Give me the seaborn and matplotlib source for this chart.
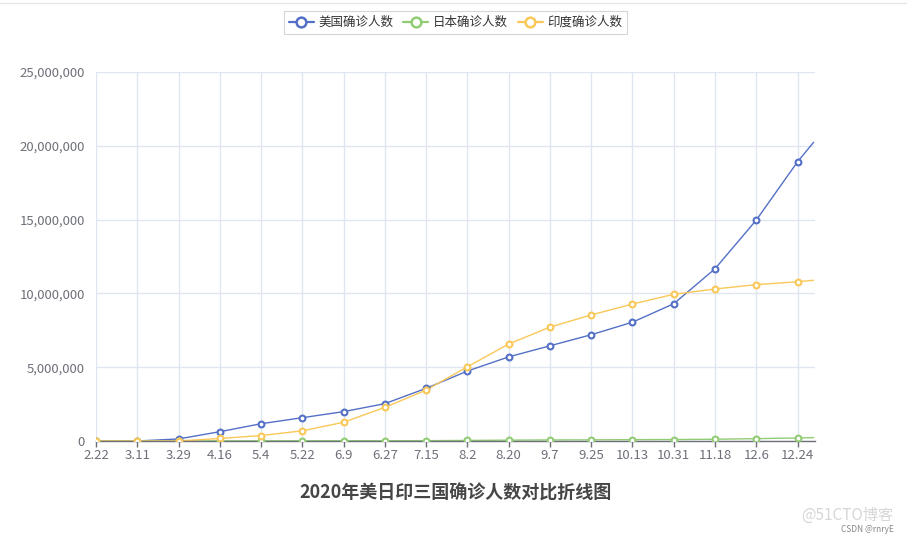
import numpy as np
import pandas as pd
import seaborn as sns
import matplotlib.pyplot as plt
from matplotlib.lines import Line2D
from matplotlib.ticker import FuncFormatter

sns.set_theme(style="white")
plt.rcParams['font.family'] = ['Noto Sans CJK SC', 'DejaVu Sans']

# dates shown on the x axis (every 18 days), last point is 12.31 (no marker)
tick_labels = ["2.22", "3.11", "3.29", "4.16", "5.4", "5.22", "6.9", "6.27", "7.15",
               "8.2", "8.20", "9.7", "9.25", "10.13", "10.31", "11.18", "12.6", "12.24"]
day_index = [i * 18 for i in range(len(tick_labels))] + [313]

us_cases = [0, 1000, 140000, 630000, 1170000, 1580000, 1990000, 2530000, 3570000,
            4740000, 5700000, 6450000, 7200000, 8050000, 9300000, 11670000,
            14970000, 18920000, 20240000]
jp_cases = [130, 600, 1900, 8700, 15000, 16500, 17200, 18400, 23000,
            38000, 58000, 72000, 79000, 89000, 100000, 120000, 160000, 205000, 230000]
in_cases = [0, 60, 1000, 170000, 370000, 690000, 1270000, 2280000, 3450000,
            5030000, 6570000, 7720000, 8540000, 9280000, 9940000, 10300000,
            10590000, 10790000, 10890000]

names = ["美国确诊人数", "日本确诊人数", "印度确诊人数"]
colors = ["#5470c6", "#91cc75", "#fac858"]

df = pd.concat([
    pd.DataFrame({"day": day_index, "cases": v, "country": n})
    for v, n in zip([us_cases, jp_cases, in_cases], names)
])

fig = plt.figure(figsize=(9.07, 5.37), dpi=100)
ax = fig.add_axes([96 / 907, 1 - 441 / 537, (815 - 96) / 907, (441 - 72) / 537])

sns.lineplot(data=df, x="day", y="cases", hue="country", palette=colors,
             linewidth=1, legend=False, ax=ax)
for n, c in zip(names, colors):
    sub = df[df["country"] == n].iloc[:-1]
    ax.plot(sub["day"], sub["cases"], "o", ms=4.2, mfc="white", mec=c, mew=1.5, zorder=5)

ax.set_xlim(0, 313.6)
ax.set_ylim(0, 25000000)
ax.set_xticks(day_index[:-1])
ax.set_xticklabels(tick_labels)
ax.set_yticks(np.arange(0, 25000001, 5000000))
ax.yaxis.set_major_formatter(FuncFormatter(lambda v, p: f"{int(v):,}"))
ax.set_xlabel("")
ax.set_ylabel("")

ax.grid(True, color="#e0e6f1", linewidth=1)
ax.set_axisbelow(True)
for s in ["top", "right", "left"]:
    ax.spines[s].set_visible(False)
ax.spines["bottom"].set_color("#6e7079")
ax.spines["bottom"].set_linewidth(1)
ax.tick_params(axis="x", colors="#6e7079", labelsize=9.5, length=4, width=1,
               direction="out", bottom=True, pad=2)
ax.tick_params(axis="y", colors="#6e7079", labelsize=9.5, length=0, pad=8)

handles = [Line2D([0], [0], color=c, lw=1.6, marker="o", ms=7, mfc="white", mec=c, mew=1.8)
           for c in colors]
leg = fig.legend(handles, names, loc="center", bbox_to_anchor=(0.502, 0.958), ncol=3,
                 frameon=True, fancybox=False, edgecolor="#cccccc", fontsize=9,
                 handlelength=2.0, handletextpad=0.35, columnspacing=0.8,
                 borderpad=0.4, labelcolor="#333333")
leg.get_frame().set_linewidth(0.8)

fig.text(0.502, 1 - 493 / 537, "2020年美日印三国确诊人数对比折线图", ha="center", va="center",
         fontsize=13, fontweight="bold", color="#464646")

# faint page separator and watermark
fig.add_artist(Line2D([0, 1], [1 - 3 / 537, 1 - 3 / 537], color="#e6e6e6", lw=1))
fig.text(0.985, 1 - 515 / 537, "@51CTO博客", ha="right", va="center",
         fontsize=11, color="#d6d6d6")
fig.text(0.985, 1 - 529 / 537, "CSDN @rnryE", ha="right", va="center",
         fontsize=6, color="#888888")

fig.savefig("out.png", dpi=100)
